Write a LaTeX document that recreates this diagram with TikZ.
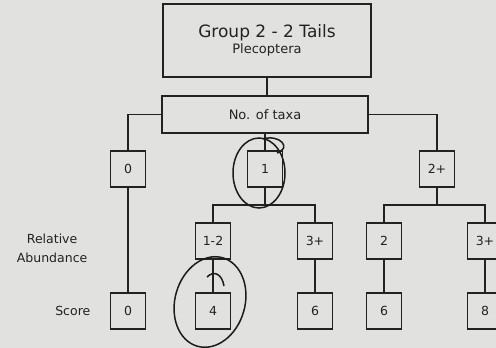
\documentclass[tikz,border=0pt]{standalone}
\usepackage{fontspec}
\setmainfont{DejaVu Sans}
\usepackage{tikz}
\usetikzlibrary{positioning}
\usepackage{xcolor}
\definecolor{fbPaper}{HTML}{E1E1DF}
\definecolor{fbInk}{HTML}{222222}
\definecolor{fbPen}{HTML}{1C1C1C}
\tikzset{
  tbox/.style={draw=fbInk, line width=1.8pt, text=fbInk, inner sep=2pt, outer sep=0pt, align=center, font=\fontsize{12.5}{15}\selectfont},
  hdr/.style={tbox, minimum width=208pt, minimum height=73pt},
  cnt/.style={tbox, minimum width=35pt, minimum height=36pt},
  lbl/.style={text=fbInk, inner sep=0pt, align=center, font=\fontsize{12.5}{19}\selectfont},
  lnk/.style={draw=fbInk, line width=1.8pt},
  pen/.style={draw=fbPen, line width=1.5pt},
}

\begin{document}
\begin{tikzpicture}[x=1pt, y=1pt]
  \useasboundingbox (0,0) rectangle (496,348);
  \fill[fbPaper] (0,0) rectangle (496,348);
  \clip (0,0) rectangle (496,348);
  \node[hdr] (title) at (267,307.5) {\fontsize{17}{18}\selectfont Group 2 - 2 Tails\\[1pt]\fontsize{13}{18}\selectfont Plecoptera};
  \node[tbox, minimum width=206pt, minimum height=37pt, below=19pt of title, xshift=-2pt, font=\fontsize{13}{15}\selectfont] (taxa) {No. of taxa};
  \node[cnt, below=18pt of taxa] (n1) {1};
  \node[cnt, left=102pt of n1] (n0) {0};
  \node[cnt, right=137pt of n1] (n2p) {2+};
  \node[cnt, below=36pt of n1, xshift=-52pt] (a12) {1-2};
  \node[cnt, right=67pt of a12] (a3m) {3+};
  \node[cnt, right=34pt of a3m] (a2) {2};
  \node[cnt, right=66pt of a2] (a3r) {3+};
  \node[cnt, below=106pt of n0] (s0) {0};
  \node[cnt, below=34pt of a12] (s4) {4};
  \node[cnt, below=34pt of a3m] (s6a) {6};
  \node[cnt, below=34pt of a2] (s6b) {6};
  \node[cnt, below=34pt of a3r] (s8) {8};
  \node[lbl, left=108pt of a12, yshift=-7pt] (relab) {Relative\\Abundance};
  \node[lbl, left=20pt of s0] (score) {Score};
  \draw[lnk] (title.south) -- (title.south |- taxa.north);
  \draw[lnk] (taxa.west) -| (n0.north); \draw[lnk] (taxa.east) -| (n2p.north); \draw[lnk] (n1.north |- taxa.south) -- (n1.north);
  \draw[lnk] (n1.south) -- ++(0,-18) coordinate (jM); \draw[lnk] (a12.north) |- (jM) -| (a3m.north);
  \draw[lnk] (n2p.south) -- ++(0,-18) coordinate (jR); \draw[lnk] (a2.north) |- (jR) -| (a3r.north);
  \draw[lnk] (n0.south) -- (s0.north); \draw[lnk] (a12.south) -- (s4.north); \draw[lnk] (a3m.south) -- (s6a.north);
  \draw[lnk] (a2.south) -- (s6b.north); \draw[lnk] (a3r.south) -- (s8.north);
  \draw[pen] (259,175) ellipse [x radius=26, y radius=35];
  \draw[pen] (263,209) .. controls (280,214) and (292,200) .. (277,195);
  \draw[pen, rotate around={-16:(210,46)}] (210,46) ellipse [x radius=35, y radius=46];
  \draw[pen] (207,71) .. controls (214,78) and (222,74) .. (224,62);
\end{tikzpicture}
\end{document}
